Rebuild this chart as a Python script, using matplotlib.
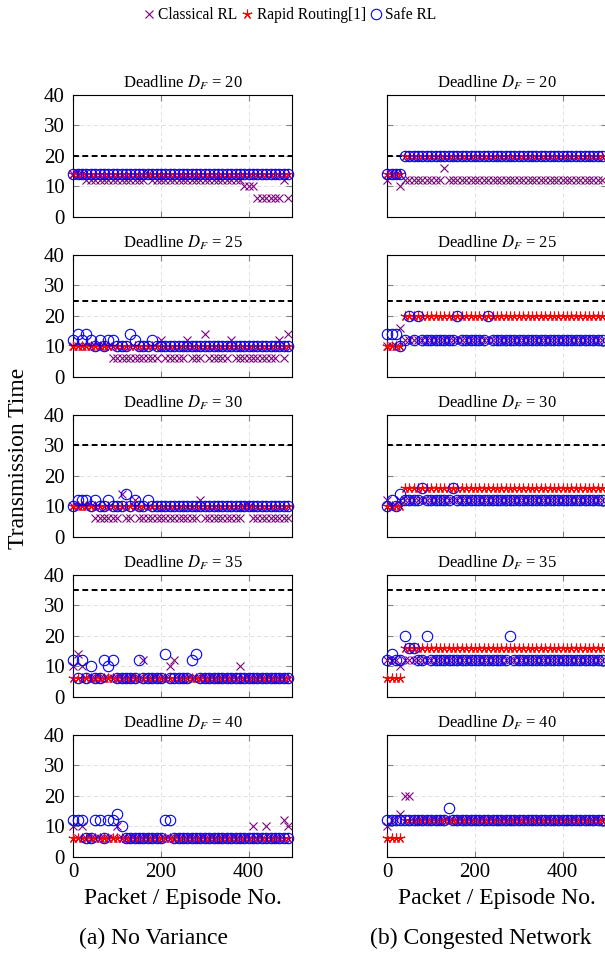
import matplotlib
matplotlib.use('Agg')
import matplotlib.pyplot as plt
from matplotlib.lines import Line2D

plt.rcParams['font.family'] = ['Liberation Serif', 'DejaVu Serif']
plt.rcParams['mathtext.fontset'] = 'stix'

# packet / episode number of every plotted point
packets = list(range(0, 500, 10))
deadlines = [20, 25, 30, 35, 40]

# ---- (a) No Variance ----
classical_nv_20 = [14, 14, 14, 12, 12, 12, 12, 12, 12, 12, 12, 12, 12, 12, 12, 12, 12, 14, 12, 12, 12, 12, 12, 12, 12,
                   12, 12, 12, 12, 12, 12, 12, 12, 12, 12, 12, 12, 12, 12, 10, 10, 10, 6, 6, 6, 6, 6, 6, 12, 6]
rapid_nv_20 = [14, 14, 14, 14, 14, 14, 14, 14, 14, 14, 14, 14, 14, 14, 14, 14, 14, 14, 14, 14, 14, 14, 14, 14, 14,
               14, 14, 14, 14, 14, 14, 14, 14, 14, 14, 14, 14, 14, 14, 14, 14, 14, 14, 14, 14, 14, 14, 14, 14, 14]
safe_nv_20 = [14, 14, 14, 14, 14, 14, 14, 14, 14, 14, 14, 14, 14, 14, 14, 14, 14, 14, 14, 14, 14, 14, 14, 14, 14,
              14, 14, 14, 14, 14, 14, 14, 14, 14, 14, 14, 14, 14, 14, 14, 14, 14, 14, 14, 14, 14, 14, 14, 14, 14]

classical_nv_25 = [10, 10, 10, 10, 10, 10, 10, 10, 10, 6, 6, 6, 6, 6, 6, 6, 6, 6, 6, 6, 12, 6, 6, 6, 6,
                   6, 12, 6, 6, 6, 14, 6, 6, 6, 6, 6, 12, 6, 6, 6, 6, 6, 6, 6, 6, 6, 6, 12, 6, 14]
rapid_nv_25 = [10, 10, 10, 10, 10, 10, 10, 10, 10, 10, 10, 10, 10, 10, 10, 10, 10, 10, 10, 10, 10, 10, 10, 10, 10,
               10, 10, 10, 10, 10, 10, 10, 10, 10, 10, 10, 10, 10, 10, 10, 10, 10, 10, 10, 10, 10, 10, 10, 10, 10]
safe_nv_25 = [12, 14, 12, 14, 12, 10, 12, 10, 12, 12, 10, 10, 10, 14, 12, 10, 10, 10, 12, 10, 10, 10, 10, 10, 10,
              10, 10, 10, 10, 10, 10, 10, 10, 10, 10, 10, 10, 10, 10, 10, 10, 10, 10, 10, 10, 10, 10, 10, 10, 10]

classical_nv_30 = [10, 10, 10, 10, 10, 6, 6, 6, 6, 6, 6, 14, 6, 6, 12, 6, 6, 6, 6, 6, 6, 6, 6, 6, 6,
                   6, 6, 6, 6, 12, 6, 6, 6, 6, 6, 6, 6, 6, 6, 10, 10, 6, 6, 6, 6, 6, 6, 6, 6, 6]
rapid_nv_30 = [10, 10, 10, 10, 10, 10, 10, 10, 10, 10, 10, 10, 10, 10, 10, 10, 10, 10, 10, 10, 10, 10, 10, 10, 10,
               10, 10, 10, 10, 10, 10, 10, 10, 10, 10, 10, 10, 10, 10, 10, 10, 10, 10, 10, 10, 10, 10, 10, 10, 10]
safe_nv_30 = [10, 12, 12, 12, 10, 12, 10, 10, 12, 10, 10, 10, 14, 10, 12, 10, 10, 12, 10, 10, 10, 10, 10, 10, 10,
              10, 10, 10, 10, 10, 10, 10, 10, 10, 10, 10, 10, 10, 10, 10, 10, 10, 10, 10, 10, 10, 10, 10, 10, 10]

classical_nv_35 = [10, 14, 10, 6, 6, 6, 6, 6, 6, 6, 6, 6, 6, 6, 6, 6, 12, 6, 6, 6, 6, 6, 10, 12, 6,
                   6, 6, 6, 6, 6, 6, 6, 6, 6, 6, 6, 6, 6, 10, 6, 6, 6, 6, 6, 6, 6, 6, 6, 6, 6]
rapid_nv_35 = [6, 6, 6, 6, 6, 6, 6, 6, 6, 6, 6, 6, 6, 6, 6, 6, 6, 6, 6, 6, 6, 6, 6, 6, 6,
               6, 6, 6, 6, 6, 6, 6, 6, 6, 6, 6, 6, 6, 6, 6, 6, 6, 6, 6, 6, 6, 6, 6, 6, 6]
safe_nv_35 = [12, 6, 12, 6, 10, 6, 6, 12, 10, 12, 6, 6, 6, 6, 6, 12, 6, 6, 6, 6, 6, 14, 6, 6, 6,
              6, 6, 12, 14, 6, 6, 6, 6, 6, 6, 6, 6, 6, 6, 6, 6, 6, 6, 6, 6, 6, 6, 6, 6, 6]

classical_nv_40 = [10, 6, 10, 6, 6, 6, 6, 6, 6, 6, 10, 6, 6, 6, 6, 6, 6, 6, 6, 6, 6, 6, 6, 6, 6,
                   6, 6, 6, 6, 6, 6, 6, 6, 6, 6, 6, 6, 6, 6, 6, 6, 10, 6, 6, 10, 6, 6, 6, 12, 10]
rapid_nv_40 = [6, 6, 6, 6, 6, 6, 6, 6, 6, 6, 6, 6, 6, 6, 6, 6, 6, 6, 6, 6, 6, 6, 6, 6, 6,
               6, 6, 6, 6, 6, 6, 6, 6, 6, 6, 6, 6, 6, 6, 6, 6, 6, 6, 6, 6, 6, 6, 6, 6, 6]
safe_nv_40 = [12, 12, 12, 6, 6, 12, 12, 6, 12, 12, 14, 10, 6, 6, 6, 6, 6, 6, 6, 6, 6, 12, 12, 6, 6,
              6, 6, 6, 6, 6, 6, 6, 6, 6, 6, 6, 6, 6, 6, 6, 6, 6, 6, 6, 6, 6, 6, 6, 6, 6]

# ---- (b) Congested Network ----
classical_cn_20 = [12, 14, 14, 10, 12, 12, 12, 12, 12, 12, 12, 12, 12, 16, 12, 12, 12, 12, 12, 12, 12, 12, 12, 12, 12,
                   12, 12, 12, 12, 12, 12, 12, 12, 12, 12, 12, 12, 12, 12, 12, 12, 12, 12, 12, 12, 12, 12, 12, 12, 12]
rapid_cn_20 = [14, 14, 14, 14, 20, 20, 20, 20, 20, 20, 20, 20, 20, 20, 20, 20, 20, 20, 20, 20, 20, 20, 20, 20, 20,
               20, 20, 20, 20, 20, 20, 20, 20, 20, 20, 20, 20, 20, 20, 20, 20, 20, 20, 20, 20, 20, 20, 20, 20, 20]
safe_cn_20 = [14, 14, 14, 14, 20, 20, 20, 20, 20, 20, 20, 20, 20, 20, 20, 20, 20, 20, 20, 20, 20, 20, 20, 20, 20,
              20, 20, 20, 20, 20, 20, 20, 20, 20, 20, 20, 20, 20, 20, 20, 20, 20, 20, 20, 20, 20, 20, 20, 20, 20]

classical_cn_25 = [10, 10, 10, 16, 12, 12, 12, 12, 12, 12, 12, 12, 12, 12, 12, 12, 12, 12, 12, 12, 12, 12, 12, 12, 12,
                   12, 12, 12, 12, 12, 12, 12, 12, 12, 12, 12, 12, 12, 12, 12, 12, 12, 12, 12, 12, 12, 12, 12, 12, 12]
rapid_cn_25 = [10, 10, 10, 10, 20, 20, 20, 20, 20, 20, 20, 20, 20, 20, 20, 20, 20, 20, 20, 20, 20, 20, 20, 20, 20,
               20, 20, 20, 20, 20, 20, 20, 20, 20, 20, 20, 20, 20, 20, 20, 20, 20, 20, 20, 20, 20, 20, 20, 20, 20]
safe_cn_25 = [14, 14, 14, 10, 12, 20, 12, 20, 12, 12, 12, 12, 12, 12, 12, 12, 20, 12, 12, 12, 12, 12, 12, 20, 12,
              12, 12, 12, 12, 12, 12, 12, 12, 12, 12, 12, 12, 12, 12, 12, 12, 12, 12, 12, 12, 12, 12, 12, 12, 12]

classical_cn_30 = [12, 10, 10, 12, 12, 12, 12, 12, 12, 12, 12, 12, 12, 12, 12, 12, 12, 12, 12, 12, 12, 12, 12, 12, 12,
                   12, 12, 12, 12, 12, 12, 12, 12, 12, 12, 12, 12, 12, 12, 12, 12, 12, 12, 12, 12, 12, 12, 12, 12, 12]
rapid_cn_30 = [10, 10, 10, 10, 16, 16, 16, 16, 16, 16, 16, 16, 16, 16, 16, 16, 16, 16, 16, 16, 16, 16, 16, 16, 16,
               16, 16, 16, 16, 16, 16, 16, 16, 16, 16, 16, 16, 16, 16, 16, 16, 16, 16, 16, 16, 16, 16, 16, 16, 16]
safe_cn_30 = [10, 12, 10, 14, 12, 12, 12, 12, 16, 12, 12, 12, 12, 12, 12, 16, 12, 12, 12, 12, 12, 12, 12, 12, 12,
              12, 12, 12, 12, 12, 12, 12, 12, 12, 12, 12, 12, 12, 12, 12, 12, 12, 12, 12, 12, 12, 12, 12, 12, 12]

classical_cn_35 = [12, 12, 12, 10, 12, 12, 12, 12, 12, 12, 12, 12, 12, 12, 12, 12, 12, 12, 12, 12, 12, 12, 12, 12, 12,
                   12, 12, 12, 12, 12, 12, 12, 12, 12, 12, 12, 12, 12, 12, 12, 12, 12, 12, 12, 12, 12, 12, 12, 12, 12]
rapid_cn_35 = [6, 6, 6, 6, 16, 16, 16, 16, 16, 16, 16, 16, 16, 16, 16, 16, 16, 16, 16, 16, 16, 16, 16, 16, 16,
               16, 16, 16, 16, 16, 16, 16, 16, 16, 16, 16, 16, 16, 16, 16, 16, 16, 16, 16, 16, 16, 16, 16, 16, 16]
safe_cn_35 = [12, 14, 12, 12, 20, 16, 16, 12, 12, 20, 12, 12, 12, 12, 12, 12, 12, 12, 12, 12, 12, 12, 12, 12, 12,
              12, 12, 12, 20, 12, 12, 12, 12, 12, 12, 12, 12, 12, 12, 12, 12, 12, 12, 12, 12, 12, 12, 12, 12, 12]

classical_cn_40 = [10, 12, 12, 14, 20, 20, 12, 12, 12, 12, 12, 12, 12, 12, 12, 12, 12, 12, 12, 12, 12, 12, 12, 12, 12,
                   12, 12, 12, 12, 12, 12, 12, 12, 12, 12, 12, 12, 12, 12, 12, 12, 12, 12, 12, 12, 12, 12, 12, 12, 12]
rapid_cn_40 = [6, 6, 6, 6, 12, 12, 12, 12, 12, 12, 12, 12, 12, 12, 12, 12, 12, 12, 12, 12, 12, 12, 12, 12, 12,
               12, 12, 12, 12, 12, 12, 12, 12, 12, 12, 12, 12, 12, 12, 12, 12, 12, 12, 12, 12, 12, 12, 12, 12, 12]
safe_cn_40 = [12, 12, 12, 12, 12, 12, 12, 12, 12, 12, 12, 12, 12, 12, 16, 12, 12, 12, 12, 12, 12, 12, 12, 12, 12,
              12, 12, 12, 12, 12, 12, 12, 12, 12, 12, 12, 12, 12, 12, 12, 12, 12, 12, 12, 12, 12, 12, 12, 12, 12]

columns = [
    [(classical_nv_20, rapid_nv_20, safe_nv_20), (classical_nv_25, rapid_nv_25, safe_nv_25),
     (classical_nv_30, rapid_nv_30, safe_nv_30), (classical_nv_35, rapid_nv_35, safe_nv_35),
     (classical_nv_40, rapid_nv_40, safe_nv_40)],
    [(classical_cn_20, rapid_cn_20, safe_cn_20), (classical_cn_25, rapid_cn_25, safe_cn_25),
     (classical_cn_30, rapid_cn_30, safe_cn_30), (classical_cn_35, rapid_cn_35, safe_cn_35),
     (classical_cn_40, rapid_cn_40, safe_cn_40)],
]
captions = ['(a) No Variance', '(b) Congested Network']
caption_x = [153, 481]

purple = '#800080'
W, H = 605, 964
fig = plt.figure(figsize=(W / 100, H / 100), dpi=100)

col_left = [73.3, 387.3]
ax_w = 219.2
ax_h = 121.5

styles = dict(
    classical=dict(marker='x', color=purple, ms=5.5, mew=0.8),
    rapid=dict(marker=(5, 2, 0), color='red', ms=7, mew=0.8),
    safe=dict(marker='o', mfc='none', mec='blue', ms=7.5, mew=0.8),
)

for c, panels in enumerate(columns):
    for r, (cl, rr, sf) in enumerate(panels):
        top = 95 + 160 * r
        ax = fig.add_axes([col_left[c] / W, 1 - (top + ax_h) / H, ax_w / W, ax_h / H])
        ax.set_xlim(0, 500)
        ax.set_ylim(0, 40)
        ax.set_xticks([0, 200, 400])
        ax.set_yticks([0, 10, 20, 30, 40])
        ax.set_axisbelow(True)
        ax.grid(True, color='#e0e0e0', linestyle=(0, (4, 3)), linewidth=0.7)
        ax.tick_params(direction='in', length=4, width=0.8, color='0.5',
                       top=True, right=True, labelsize=15, pad=5)
        ax.tick_params(axis='y', pad=6)
        for s in ax.spines.values():
            s.set_linewidth(0.8)
        ax.axhline(deadlines[r], color='black', lw=1.4, dashes=(3, 1.8), zorder=2)
        ax.plot(packets, cl, ls='none', clip_on=False, zorder=3, **styles['classical'])
        ax.plot(packets, rr, ls='none', clip_on=False, zorder=4, **styles['rapid'])
        ax.plot(packets, sf, ls='none', clip_on=False, zorder=5, **styles['safe'])
        ax.set_title('Deadline $D_F$ = %d' % deadlines[r], fontsize=12, pad=5)
        if c == 1:
            ax.tick_params(labelleft=False)
        if r < 4:
            ax.tick_params(labelbottom=False)
        else:
            ax.set_xlabel('Packet / Episode No.', fontsize=17, labelpad=4)
    fig.text(caption_x[c] / W, 1 - 938 / H, captions[c],
             ha='center', va='center', fontsize=17)

fig.text(19 / W, 1 - 458 / H, 'Transmission Time', rotation=90,
         ha='center', va='center', fontsize=17)

handles = [
    Line2D([], [], ls='none', **styles['classical']),
    Line2D([], [], ls='none', **styles['rapid']),
    Line2D([], [], ls='none', **styles['safe']),
]
fig.legend(handles, ['Classical RL', 'Rapid Routing[1]', 'Safe RL'],
           loc='center', bbox_to_anchor=(290 / W, 1 - 15 / H), ncol=3,
           frameon=False, fontsize=11.2, handlelength=0.7, handletextpad=0.25,
           columnspacing=0.3, borderpad=0)

fig.savefig('out.png', dpi=100)
